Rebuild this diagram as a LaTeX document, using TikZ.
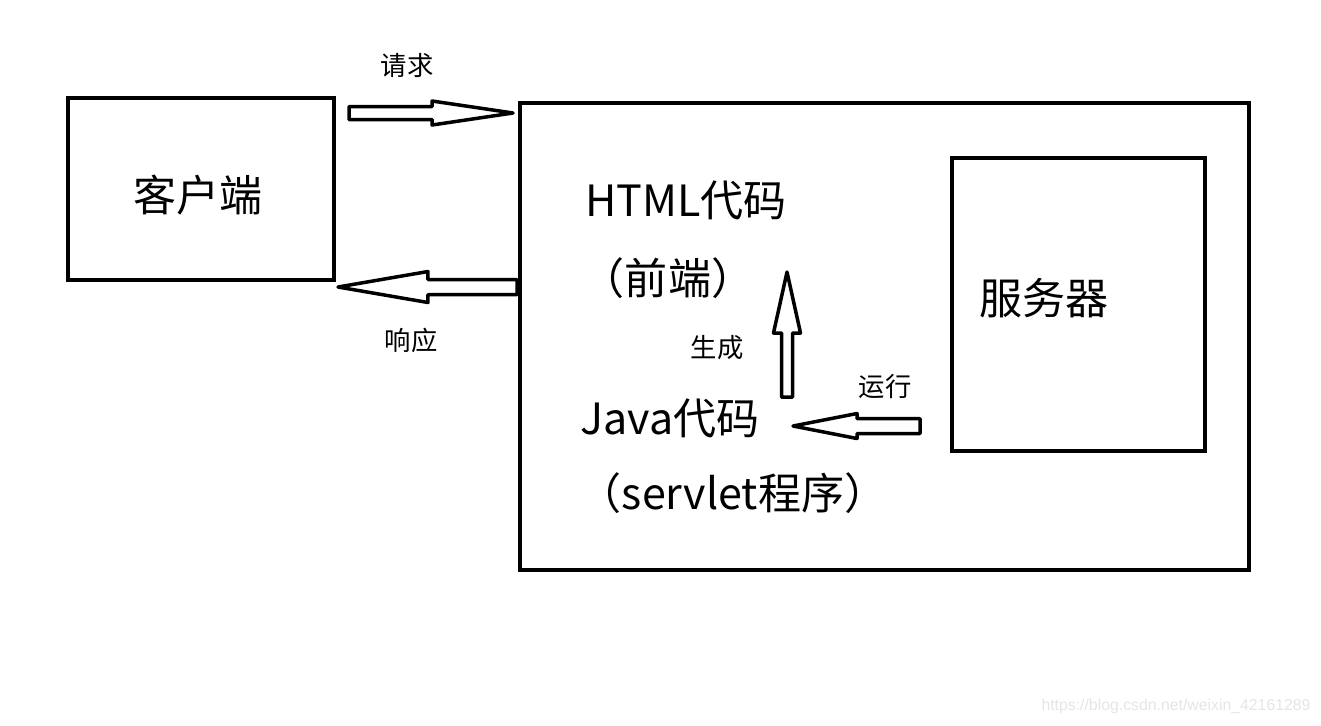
\documentclass[tikz,border=0pt]{standalone}
\usepackage{fontspec}
\setmainfont{Noto Sans CJK SC}
\newfontfamily\markfont{Liberation Sans}
\usetikzlibrary{calc}

\tikzset{
  box/.style={draw, line width=0.085cm, inner sep=0pt},
  bigtext/.style={font=\fontsize{24.5}{28}\selectfont, inner sep=0pt},
  smalltext/.style={font=\fontsize{15}{18}\selectfont, inner sep=0pt},
  blockarrow/.style={draw, line width=0.07cm, line join=round, fill=white},
}

% hollow block arrow: start, tip, shaft half width, head half width, head length
\newcommand{\hollowarrow}[5]{%
  \coordinate (hb) at ($(#2)!#5!(#1)$);
  \draw[blockarrow] ($(#1)!#3!90:(#2)$) -- ($(hb)!#3!90:(#2)$) -- ($(hb)!#4!90:(#2)$)
    -- (#2) -- ($(hb)!#4!-90:(#2)$) -- ($(hb)!#3!-90:(#2)$) -- ($(#1)!#3!-90:(#2)$) -- cycle;
}

\begin{document}
\begin{tikzpicture}[x=0.02cm, y=-0.02cm]
      \useasboundingbox (0,0) rectangle (1321,725);

      % Boxes
      \draw[box] (68,98) rectangle (334,280);
      \node[bigtext] (client) at (198,195) {客户端};
      \draw[box] (520,103) rectangle (1249,570);
      \draw[box] (952,158) rectangle (1205,451);
      \node[bigtext] (server) at (1044,298) {服务器};

      % Texts inside the web box
      \node[bigtext] (html) at (686,200) {HTML代码};
      \node[bigtext] (front) at (668,278) {（前端）};
      \node[bigtext] (java) at (670,418) {Java代码};
      \node[bigtext] (servlet) at (733,493) {（servlet程序）};

      % Arrow ends
      \coordinate (reqA) at (349,113);
      \coordinate (reqB) at (513,113);
      \coordinate (resA) at (517,287);
      \coordinate (resB) at (338,287);
      \coordinate (genA) at (787,397);
      \coordinate (genB) at (787,272);
      \coordinate (runA) at (920,426);
      \coordinate (runB) at (793,426);

      % Request / response
      \hollowarrow{reqA}{reqB}{0.13cm}{0.24cm}{1.62cm}
      \node[smalltext] (req) at (407,66) {请求};
      \hollowarrow{resA}{resB}{0.15cm}{0.31cm}{1.8cm}
      \node[smalltext] (res) at (411,340) {响应};

      % Generate / run
      \hollowarrow{genA}{genB}{0.11cm}{0.27cm}{1.22cm}
      \node[smalltext] (gen) at (717,348) {生成};
      \hollowarrow{runA}{runB}{0.15cm}{0.25cm}{1.28cm}
      \node[smalltext] (run) at (885,387) {运行};

      % Watermark
      \node[font=\markfont\fontsize{9}{10}\selectfont, text=black!10, inner sep=0pt] (mark) at (1176,706) {https://blog.csdn.net/weixin\_42161289};
\end{tikzpicture}
\end{document}
